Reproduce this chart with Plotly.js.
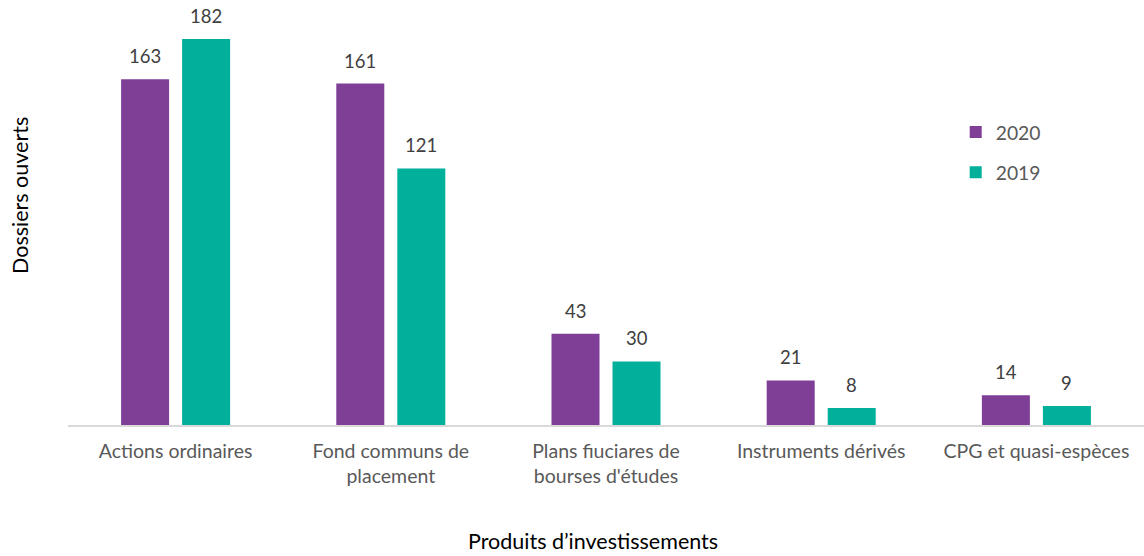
<!DOCTYPE html>
<html>
<head>
<meta charset="utf-8">
<script src="https://cdn.plot.ly/plotly-3.0.1.min.js"></script>
<style>html,body{margin:0;padding:0;background:#fff;}#chart{width:1144px;height:556px;}</style>
</head>
<body>
<div id="chart"></div>
<script>
const categories = ["Actions ordinaires", "Fond communs de<br>placement", "Plans fiuciares de<br>bourses d'études", "Instruments dérivés", "CPG et quasi-espèces"];
const values2020 = [163, 161, 43, 21, 14];
const values2019 = [182, 121, 30, 8, 9];
const seriesNames = ["2020", "2019"];
const colors = ["#803f97", "#00b09b"];

const FONT = "Lato, 'Open Sans', sans-serif";
const W = 1144, H = 556;
const margin = {l: 68, r: 0, t: 0, b: 131};
const bargap = 0.433, bargroupgap = 0.213;

const series = [values2020, values2019];
const traces = series.map((vals, i) => ({
  type: "bar", name: seriesNames[i], x: categories, y: vals,
  marker: {color: colors[i]}, legendgroup: "g" + i, hoverinfo: "skip"
}));

// value labels above each bar, placed via the axis scales
const catPx = (W - margin.l - margin.r) / categories.length;
const slot = catPx * (1 - bargap) / series.length;
const annotations = [];
series.forEach((vals, i) => {
  const shift = (i - (series.length - 1) / 2) * slot;
  vals.forEach((v, j) => {
    annotations.push({x: categories[j], y: v, xref: "x", yref: "y", text: String(v),
      showarrow: false, xshift: shift, yanchor: "bottom", yshift: 10,
      font: {family: FONT, size: 18.5, color: "#404040"}});
  });
});
annotations.push({text: "Dossiers ouverts", textangle: -90, xref: "paper", yref: "paper",
  x: -48 / (W - margin.l), y: 1 - 196 / (H - margin.t - margin.b), xanchor: "center", yanchor: "middle",
  showarrow: false, font: {family: FONT, size: 21.5, color: "#000"}});
annotations.push({text: "Produits d’investissements", xref: "paper", yref: "paper",
  x: (593 - margin.l) / (W - margin.l), y: -(541 - (H - margin.b)) / (H - margin.t - margin.b),
  xanchor: "center", yanchor: "middle",
  showarrow: false, font: {family: FONT, size: 21.5, color: "#000"}});

const layout = {
  width: W, height: H, margin: margin,
  paper_bgcolor: "#fff", plot_bgcolor: "#fff",
  font: {family: FONT, size: 19.5, color: "#595959"},
  barmode: "group", bargap: bargap, bargroupgap: bargroupgap,
  showlegend: true,
  legend: {x: 0.825, y: 0.734, xanchor: "left", yanchor: "top", tracegroupgap: 12,
           font: {family: FONT, size: 19.3, color: "#595959"}, bgcolor: "rgba(0,0,0,0)"},
  xaxis: {showline: true, linecolor: "#d9d9d9", linewidth: 1.5, ticks: "", showgrid: false,
          tickfont: {family: FONT, size: 19.5, color: "#595959"}, ticklabelstandoff: 8},
  yaxis: {range: [0, 200.4], showgrid: false, showticklabels: false, zeroline: false, ticks: ""},
  annotations: annotations
};

Plotly.newPlot("chart", traces, layout, {displayModeBar: false, staticPlot: true});
</script>
</body>
</html>
